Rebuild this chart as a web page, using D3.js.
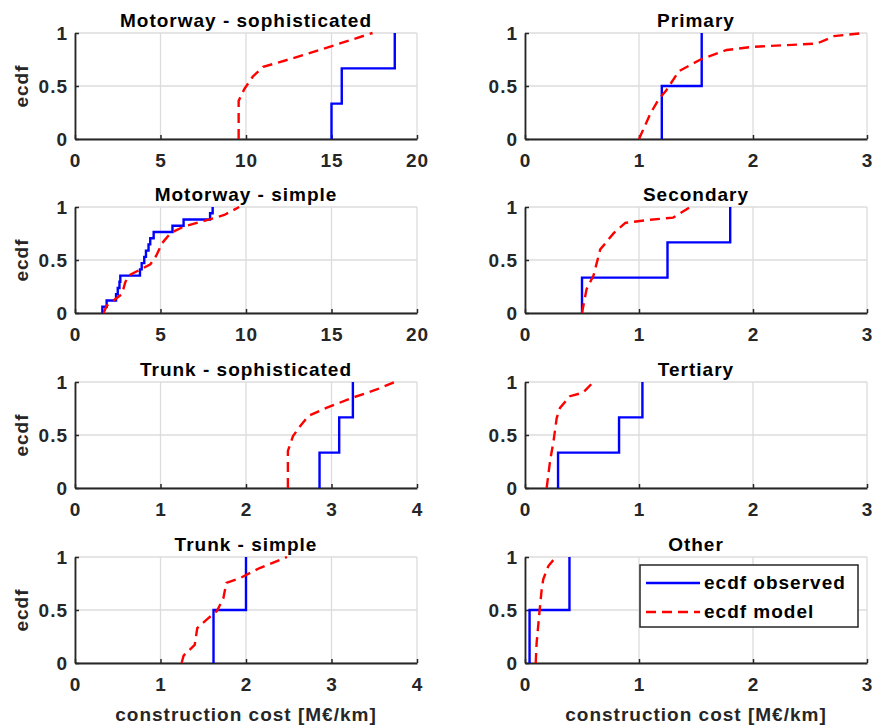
<!DOCTYPE html>
<html>
<head>
<meta charset="utf-8">
<title>ecdf construction cost</title>
<script src="https://d3js.org/d3.v7.min.js"></script>
<style>
body { margin: 0; background: #fff; }
svg text {
  font-family: "Liberation Sans", Arial, sans-serif;
  font-weight: bold;
  font-size: 19px;
  letter-spacing: 1px;
}
</style>
</head>
<body>
<script>

// panel titles, row by row (left, right)
var titles = ["Motorway - sophisticated", "Primary",
              "Motorway - simple", "Secondary",
              "Trunk - sophisticated", "Tertiary",
              "Trunk - simple", "Other"];

var xMax = [20, 3, 20, 3, 4, 3, 4, 3];

var ticks20 = [0, 5, 10, 15, 20],
    ticks4 = [0, 1, 2, 3, 4],
    ticks3 = [0, 1, 2, 3],
    yTicks = [0, 0.5, 1];

// observed costs (sorted), M€/km
var obsMotorwaySoph = [15.0, 15.6, 18.7];
var obsPrimary = [1.2, 1.55];
var obsMotorwaySimple = [1.6, 1.85, 2.4, 2.5, 2.6, 2.65, 3.8, 3.9, 4.05, 4.15, 4.3, 4.4, 4.6, 5.7, 6.35, 7.9, 8.05];
var obsSecondary = [0.5, 1.25, 1.8];
var obsTrunkSoph = [2.86, 3.09, 3.25];
var obsTertiary = [0.29, 0.825, 1.03];
var obsTrunkSimple = [1.62, 2.0];
var obsOther = [0.04, 0.39];

// model ecdf: [cost, F]
var modMotorwaySoph = [[9.57,0],[9.57,0.36],[9.9,0.47],[10.4,0.59],[11.0,0.68],[12.7,0.76],[14.7,0.86],[17.4,1.0]];
var modPrimary = [[1.0,0],[1.1,0.24],[1.17,0.37],[1.24,0.46],[1.35,0.64],[1.54,0.75],[1.77,0.84],[2.0,0.87],[2.56,0.9],[2.71,0.97],[2.97,1.0]];
var modMotorwaySimple = [[1.67,0],[1.86,0.07],[2.35,0.13],[2.75,0.18],[2.94,0.29],[3.14,0.355],[3.82,0.41],[4.41,0.46],[4.75,0.54],[5.1,0.66],[5.59,0.754],[6.37,0.816],[7.75,0.878],[8.73,0.925],[9.6,1.0]];
var modSecondary = [[0.5,0],[0.54,0.225],[0.6,0.35],[0.66,0.6],[0.78,0.756],[0.88,0.85],[1.1,0.88],[1.3,0.9],[1.45,1.0]];
var modTrunkSoph = [[2.49,0],[2.49,0.35],[2.55,0.49],[2.63,0.58],[2.73,0.68],[2.94,0.756],[3.26,0.856],[3.53,0.93],[3.74,1.0]];
var modTertiary = [[0.19,0],[0.22,0.256],[0.25,0.44],[0.278,0.66],[0.307,0.756],[0.395,0.866],[0.51,0.9],[0.6,1.0]];
var modTrunkSimple = [[1.247,0],[1.27,0.07],[1.40,0.17],[1.43,0.33],[1.54,0.41],[1.66,0.49],[1.735,0.61],[1.77,0.755],[1.93,0.8],[2.16,0.896],[2.48,1.0]];
var modOther = [[0.094,0],[0.102,0.19],[0.126,0.47],[0.146,0.69],[0.16,0.79],[0.205,0.915],[0.263,0.99],[0.29,1.0]];

var observed = [obsMotorwaySoph, obsPrimary, obsMotorwaySimple, obsSecondary,
                obsTrunkSoph, obsTertiary, obsTrunkSimple, obsOther];
var model = [modMotorwaySoph, modPrimary, modMotorwaySimple, modSecondary,
             modTrunkSoph, modTertiary, modTrunkSimple, modOther];

var legendLabels = ["ecdf observed", "ecdf model"];

var width = 872, height = 727;
var colLeft = [75, 525], plotW = 342,
    rowTop = [33, 207, 382, 557], plotH = 106;

var axisColor = "#262626", gridColor = "#dcdcdc";

var svg = d3.select("body").append("svg")
    .attr("width", width)
    .attr("height", height);

titles.forEach(function(title, i) {
  var col = i % 2, row = Math.floor(i / 2);
  var g = svg.append("g")
      .attr("transform", "translate(" + colLeft[col] + "," + rowTop[row] + ")");

  var x = d3.scaleLinear().domain([0, xMax[i]]).range([0, plotW]);
  var y = d3.scaleLinear().domain([0, 1]).range([plotH, 0]);
  var xt = xMax[i] == 20 ? ticks20 : (xMax[i] == 4 ? ticks4 : ticks3);

  // grid
  g.append("g").selectAll("line").data(xt).enter().append("line")
      .attr("x1", d => x(d)).attr("x2", d => x(d))
      .attr("y1", 0).attr("y2", plotH)
      .attr("stroke", gridColor).attr("stroke-width", 1.3);
  g.append("g").selectAll("line").data(yTicks).enter().append("line")
      .attr("x1", 0).attr("x2", plotW)
      .attr("y1", d => y(d)).attr("y2", d => y(d))
      .attr("stroke", gridColor).attr("stroke-width", 1.3);

  // axes, ticks pointing in
  var xa = g.append("g")
      .attr("transform", "translate(0," + plotH + ")")
      .call(d3.axisBottom(x).tickValues(xt).tickFormat(d3.format("d"))
            .tickSize(-4).tickSizeOuter(0).tickPadding(15));
  var ya = g.append("g")
      .call(d3.axisLeft(y).tickValues(yTicks).tickFormat(d => d == 0.5 ? "0.5" : d)
            .tickSize(-4).tickSizeOuter(0).tickPadding(7));
  [xa, ya].forEach(function(a) {
    a.attr("font-family", null).attr("font-size", null);
    a.select(".domain").attr("stroke", axisColor).attr("stroke-width", 1.8);
    a.selectAll(".tick line").attr("stroke", axisColor).attr("stroke-width", 1.5);
    a.selectAll(".tick text").attr("fill", axisColor);
  });

  // observed ecdf as stairs
  var obs = observed[i], n = obs.length;
  var stairs = obs.map((v, k) => [v, k / n]);
  stairs.push([obs[n - 1], 1]);
  g.append("path")
      .attr("d", d3.line().x(d => x(d[0])).y(d => y(d[1])).curve(d3.curveStepBefore)(stairs))
      .attr("fill", "none")
      .attr("stroke", "#0000ff")
      .attr("stroke-width", 2.4);

  // model ecdf
  g.append("path")
      .attr("d", d3.line().x(d => x(d[0])).y(d => y(d[1]))(model[i]))
      .attr("fill", "none")
      .attr("stroke", "#ff0000")
      .attr("stroke-width", 2.4)
      .attr("stroke-dasharray", "10,6");

  g.append("text")
      .attr("x", plotW / 2)
      .attr("y", -6)
      .attr("text-anchor", "middle")
      .attr("fill", "#000")
      .text(title);

  if (col == 0) {
    g.append("text")
        .attr("transform", "translate(-47," + plotH / 2 + ")rotate(-90)")
        .attr("text-anchor", "middle")
        .attr("fill", axisColor)
        .text("ecdf");
  }
  if (row == 3) {
    g.append("text")
        .attr("x", plotW / 2)
        .attr("y", plotH + 58)
        .attr("text-anchor", "middle")
        .attr("fill", axisColor)
        .text("construction cost [M€/km]");
  }

  // legend sits in the last panel
  if (i == 7) {
    var lg = g.append("g").attr("transform", "translate(115,8)");
    lg.append("rect")
        .attr("width", 218).attr("height", 62)
        .attr("fill", "#fff")
        .attr("stroke", axisColor).attr("stroke-width", 1.5);
    legendLabels.forEach(function(lab, k) {
      var yy = 18 + k * 29;
      lg.append("line")
          .attr("x1", 6).attr("x2", 60)
          .attr("y1", yy).attr("y2", yy)
          .attr("stroke", k == 0 ? "#0000ff" : "#ff0000")
          .attr("stroke-width", 2.4)
          .attr("stroke-dasharray", k == 0 ? null : "10,6");
      lg.append("text")
          .attr("x", 64)
          .attr("y", yy + 6)
          .attr("fill", "#000")
          .text(lab);
    });
  }
});

</script>
</body>
</html>
